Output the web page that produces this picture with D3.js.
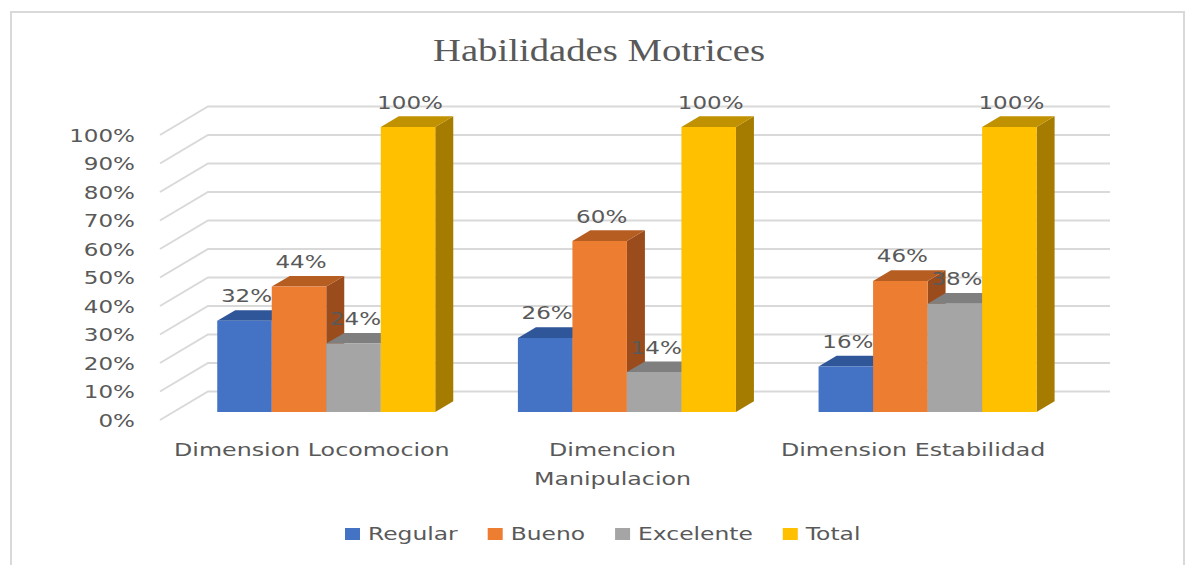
<!DOCTYPE html>
<html><head><meta charset="utf-8">
<script src="https://cdn.jsdelivr.net/npm/d3@7"></script>
<style>body{margin:0;background:#fff} svg{display:block}</style>
</head><body>
<svg id="c" width="1186" height="565"></svg>
<script>
// ---- data ----
const title = "Habilidades Motrices";
const categories = ["Dimension Locomocion", "Dimencion Manipulacion", "Dimension Estabilidad"];
const series = ["Regular", "Bueno", "Excelente", "Total"];
const regular = [0.32, 0.26, 0.16];
const bueno = [0.44, 0.60, 0.46];
const excelente = [0.24, 0.14, 0.38];
const total = [1.00, 1.00, 1.00];
const yTicks = [0, 0.1, 0.2, 0.3, 0.4, 0.5, 0.6, 0.7, 0.8, 0.9, 1.0];

// ---- styles ----
const frontColors = ["#4472C4", "#ED7D31", "#A5A5A5", "#FFC000"];
const topColors   = ["#30569A", "#B65D22", "#7F7F7F", "#C09100"];
const sideColors  = ["#2C4F8E", "#9A4C1C", "#6F6F6F", "#A67C00"];
const textColor = "#595959";
const S = 1.28;            // horizontal text stretch of the reference
const SC = 1.32;           // stretch for category labels
const SL = 1.30;           // stretch for legend labels
const depthX = 48, depthY = 28.5;
const z1 = 0.28, z2 = 0.655;

const values = [regular, bueno, excelente, total];
const svg = d3.select("#c");

// frame
svg.append("rect").attr("x", 11).attr("y", 12).attr("width", 1173).attr("height", 620)
  .attr("fill", "#fff").attr("stroke", "#d9d9d9").attr("stroke-width", 2);

const y = d3.scaleLinear().domain([0, 1]).range([420, 135]);
const x0 = d3.scaleBand().domain(categories).range([160, 1062]).paddingInner(0).paddingOuter(0);
const x1 = d3.scaleBand().domain(series).range([0, x0.bandwidth()])
  .paddingInner(0).paddingOuter(0.758).align(0.53);
const proj = (x, v, z) => [x + z * depthX, y(v) - z * depthY];
const line = d3.line();

// gridlines
svg.append("g").selectAll("path").data(yTicks).join("path")
  .attr("d", t => line([proj(x0.range()[0], t, 0), proj(x0.range()[0], t, 1), proj(x0.range()[1], t, 1)]))
  .attr("fill", "none").attr("stroke", "#d9d9d9").attr("stroke-width", 2);

// tick labels
const fmt = d3.format(".0%");
svg.append("g").selectAll("text").data(yTicks).join("text")
  .attr("transform", t => `translate(135,${y(t) + 6.5}) scale(${S},1)`)
  .attr("text-anchor", "end")
  .style("font-family", "DejaVu Sans").style("font-size", "18px").attr("fill", textColor)
  .text(t => fmt(t));

// bars
const bars = [];
categories.forEach((c, i) => {
  series.forEach((s, j) => {
    bars.push({c, s, j, v: values[j][i], xa: x0(c) + x1(s), xb: x0(c) + x1(s) + x1.bandwidth()});
  });
});
const gb = svg.append("g");
bars.forEach(b => {
  const g = gb.append("g");
  g.append("path").attr("d", line([proj(b.xb, 0, z1), proj(b.xb, 0, z2), proj(b.xb, b.v, z2), proj(b.xb, b.v, z1)]) + "Z")
    .attr("fill", sideColors[b.j]);
  g.append("path").attr("d", line([proj(b.xa, b.v, z1), proj(b.xb, b.v, z1), proj(b.xb, b.v, z2), proj(b.xa, b.v, z2)]) + "Z")
    .attr("fill", topColors[b.j]);
  g.append("path").attr("d", line([proj(b.xa, 0, z1), proj(b.xb, 0, z1), proj(b.xb, b.v, z1), proj(b.xa, b.v, z1)]) + "Z")
    .attr("fill", frontColors[b.j]);
});

// value labels
svg.append("g").selectAll("text").data(bars).join("text")
  .attr("transform", b => {
    const p = proj((b.xa + b.xb) / 2, b.v, z1);
    return `translate(${p[0] + 2},${p[1] - 18.5}) scale(${S},1)`;
  })
  .attr("text-anchor", "middle")
  .style("font-family", "DejaVu Sans").style("font-size", "18px").attr("fill", textColor)
  .text(b => fmt(b.v));

// category labels (wrap when wider than the space Excel allows)
const gc = svg.append("g");
categories.forEach(c => {
  const cx = x0(c) + x0.bandwidth() / 2 + 1.5;
  const t = gc.append("text").attr("transform", `translate(${cx},456) scale(${SC},1)`)
    .attr("text-anchor", "middle")
    .style("font-family", "DejaVu Sans").style("font-size", "18px").attr("fill", textColor)
    .text(c);
  if (t.node().getComputedTextLength() * SC > 282) {
    const words = c.split(" ");
    t.text(null);
    words.forEach((w, k) => t.append("tspan").attr("x", 0).attr("y", k * 29).text(w));
  }
});

// legend
const gl = svg.append("g");
let lx = 345;
series.forEach((s, j) => {
  gl.append("rect").attr("x", lx).attr("y", 528).attr("width", 15).attr("height", 12).attr("fill", frontColors[j]);
  const t = gl.append("text").attr("transform", `translate(${lx + 23},540) scale(${SL},1)`)
    .style("font-family", "DejaVu Sans").style("font-size", "18px").attr("fill", textColor)
    .text(s);
  lx += 23 + t.node().getComputedTextLength() * SL + 30;
});

// title
svg.append("text").attr("transform", `translate(599,61) scale(1.21,1)`)
  .attr("text-anchor", "middle")
  .style("font-family", "Liberation Serif").style("font-size", "32px").attr("fill", textColor)
  .text(title);
</script>
</body></html>
